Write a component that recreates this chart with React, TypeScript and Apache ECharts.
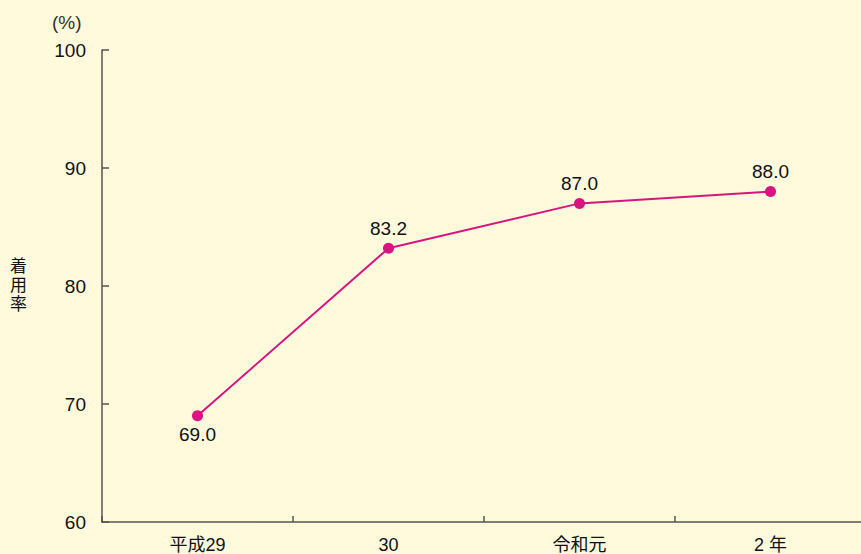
import React, { useEffect, useRef } from "react";
import * as echarts from "echarts";

const categories = ["平成29", "30", "令和元", "2 年"];
const values = [69.0, 83.2, 87.0, 88.0];
const labelBelow = [true, false, false, false];
const yTicks = { min: 60, max: 100, interval: 10 };
const unitLabel = "(%)";
const yName = "着\n用\n率";

const FONT = "'Liberation Sans', 'Noto Sans CJK JP', sans-serif";

export default function App() {
  const ref = useRef<HTMLDivElement>(null);
  useEffect(() => {
    if (!ref.current) return;
    const chart = echarts.init(ref.current, undefined, { renderer: "svg" });
    chart.setOption({
      animation: false,
      backgroundColor: "#FFFADC",
      grid: {
        left: 102,
        width: 764,
        top: 50,
        bottom: 32,
        containLabel: false,
        outerBoundsMode: "none",
      },
      xAxis: {
        type: "category",
        data: categories,
        boundaryGap: true,
        axisLine: { lineStyle: { color: "#555", width: 1.5 } },
        axisTick: { show: true, interval: 0, inside: true, length: 6, lineStyle: { color: "#555", width: 1.5 } },
        axisLabel: { color: "#111", fontSize: 18, fontFamily: FONT, margin: 14, interval: 0 },
        splitLine: { show: false },
      },
      yAxis: {
        type: "value",
        min: yTicks.min,
        max: yTicks.max,
        interval: yTicks.interval,
        axisLine: { show: true, lineStyle: { color: "#555", width: 1.5 } },
        axisTick: { show: true, inside: true, length: 7, lineStyle: { color: "#555", width: 1.5 } },
        axisLabel: { color: "#111", fontSize: 19, fontFamily: FONT, margin: 16 },
        splitLine: { show: false },
      },
      graphic: [
        {
          type: "text",
          left: 52,
          top: 13,
          style: { text: unitLabel, fontSize: 19, fontFamily: FONT, fill: "#333" },
        },
        {
          type: "text",
          left: 10,
          top: 257,
          style: { text: yName, fontSize: 17, lineHeight: 19, fontFamily: FONT, fill: "#111" },
        },
      ],
      series: [
        {
          type: "line",
          data: values.map((v, i) => ({
            value: v,
            label: {
              show: true,
              position: labelBelow[i] ? "bottom" : "top",
              distance: labelBelow[i] ? 4 : 5,
              formatter: (p: any) => Number(p.value).toFixed(1),
              color: "#111",
              fontSize: 19,
              fontFamily: FONT,
            },
          })),
          symbol: "circle",
          symbolSize: 11,
          lineStyle: { color: "#D9137F", width: 2 },
          itemStyle: { color: "#D9137F" },
        },
      ],
    });
    return () => chart.dispose();
  }, []);
  return (
    <div
      ref={ref}
      style={{ position: "fixed", left: 0, top: 0, width: 861, height: 554 }}
    />
  );
}
